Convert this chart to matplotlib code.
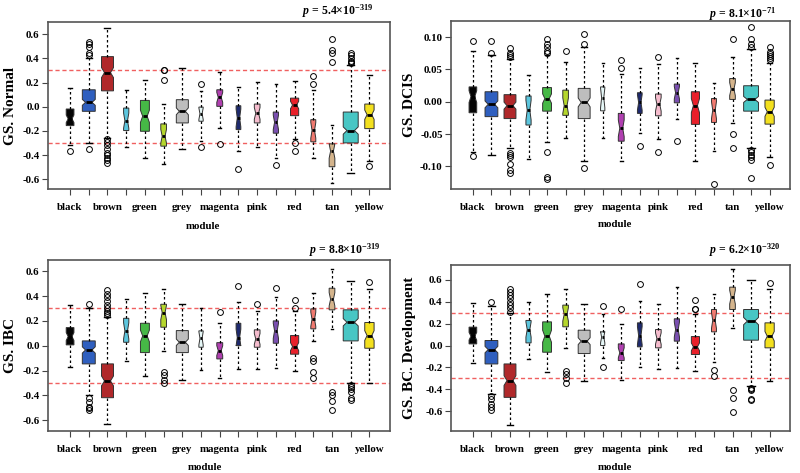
import numpy as np
import matplotlib
matplotlib.use("Agg")
import matplotlib.pyplot as plt

plt.rcParams['font.family'] = 'Liberation Serif'
plt.rcParams['font.weight'] = 'bold'
plt.rcParams['axes.unicode_minus'] = False
plt.rcParams['mathtext.fontset'] = 'custom'
plt.rcParams['mathtext.rm'] = 'Liberation Serif:bold'
plt.rcParams['mathtext.it'] = 'Liberation Serif:italic:bold'
plt.rcParams['mathtext.bf'] = 'Liberation Serif:bold'

modules = ['black', 'blue', 'brown', 'cyan', 'green', 'greenyellow', 'grey',
           'lightcyan', 'magenta', 'midnightblue', 'pink', 'purple', 'red',
           'salmon', 'tan', 'turquoise', 'yellow']
module_colors = ['#050505', '#2f5fbf', '#b0282a', '#5cc6de', '#46b846', '#b5d62c',
                 '#bdbdbd', '#e6f7f7', '#b03fb0', '#1e2a6e', '#f5bccd', '#7a4fb0',
                 '#e8202a', '#f07a70', '#d4b48c', '#48c6c4', '#f3e01e']
# genes per module (box width ~ sqrt(n))
module_size = [48, 134, 116, 22, 64, 26, 116, 15, 28, 18, 26, 22, 54, 20, 26, 180, 70]

# GS.Normal
normal_q1 = [-0.156, -0.038, 0.131, -0.197, -0.203, -0.326, -0.134, -0.12, 0.003,
             -0.189, -0.134, -0.219, -0.074, -0.29, -0.496, -0.299, -0.181]
normal_med = [-0.10, 0.036, 0.282, -0.115, -0.079, -0.244, -0.038, -0.058, 0.077,
              -0.093, -0.055, -0.129, 0.014, -0.195, -0.367, -0.197, -0.066]
normal_q3 = [-0.019, 0.14, 0.414, -0.011, 0.052, -0.142, 0.058, -0.003, 0.14,
             0.008, 0.022, -0.044, 0.071, -0.107, -0.307, -0.044, 0.022]
normal_lo = [-0.318, -0.30, -0.257, -0.334, -0.422, -0.477, -0.348, -0.28, -0.18,
             -0.362, -0.334, -0.427, -0.27, -0.422, -0.627, -0.55, -0.449]
normal_hi = [0.153, 0.40, 0.652, 0.14, 0.219, 0.022, 0.318, 0.13, 0.29,
             0.167, 0.203, 0.189, 0.214, 0.137, -0.148, 0.343, 0.258]
normal_out = [[-0.367], [0.427, 0.441, 0.49, 0.515, 0.537, -0.353],
              [-0.263, -0.29, -0.32, -0.35, -0.38, -0.40, -0.42, -0.44, -0.468],
              [], [], [0.222, 0.30, 0.304], [], [0.186, -0.334], [-0.312],
              [-0.512], [], [-0.482], [-0.299, -0.362], [0.186, 0.252],
              [0.373, 0.441, 0.468, 0.556], [0.36, 0.37, 0.38, 0.40, 0.43, 0.447],
              [-0.49]]

# GS.DCIS
dcis_q1 = [-0.017, -0.023, -0.026, -0.036, -0.0145, -0.021, -0.026, -0.014, -0.061,
           -0.018, -0.0217, -0.0016, -0.035, -0.032, 0.0036, -0.0145, -0.0346]
dcis_med = [0.008, -0.004, -0.006, -0.013, 0.005, -0.006, -0.001, 0.006, -0.041,
            -0.001, -0.004, 0.014, -0.006, -0.013, 0.0196, 0.0036, -0.0155]
dcis_q3 = [0.023, 0.0155, 0.011, 0.009, 0.022, 0.018, 0.0207, 0.023, -0.018,
           0.014, 0.012, 0.0274, 0.0155, 0.005, 0.036, 0.0248, 0.0026]
dcis_lo = [-0.0775, -0.082, -0.072, -0.089, -0.062, -0.056, -0.091, -0.056, -0.0915,
           -0.049, -0.058, -0.027, -0.092, -0.0765, -0.0326, -0.071, -0.085]
dcis_hi = [0.079, 0.072, 0.066, 0.042, 0.073, 0.062, 0.085, 0.06, 0.043,
           0.052, 0.059, 0.067, 0.06, 0.029, 0.069, 0.082, 0.06]
dcis_out = [[0.094, -0.084], [0.075, 0.094],
            [0.069, 0.072, 0.075, 0.083, -0.079, -0.083, -0.085, -0.097, -0.105, -0.110],
            [], [0.075, 0.078, 0.084, 0.09, 0.097, -0.078, -0.116, -0.119],
            [0.079], [0.09, 0.105, -0.102], [], [0.053, 0.0646], [-0.068],
            [0.07, -0.0775], [-0.06], [], [-0.127], [0.097, -0.05, -0.072],
            [0.084, 0.090, 0.097, 0.115, -0.075, -0.078, -0.082, -0.085, -0.09, -0.118],
            [0.065, 0.067, 0.071, 0.074, 0.077, 0.084, -0.098]]

# GS.IBC
ibc_q1 = [0.007, -0.146, -0.418, 0.028, -0.055, 0.149, -0.055, -0.012, -0.106,
          0.001, -0.012, 0.02, -0.068, 0.136, 0.289, 0.039, -0.02]
ibc_med = [0.074, -0.034, -0.283, 0.12, 0.079, 0.267, 0.028, 0.06, -0.039,
           0.066, 0.055, 0.12, -0.007, 0.213, 0.374, 0.189, 0.082]
ibc_q3 = [0.146, 0.039, -0.146, 0.221, 0.181, 0.334, 0.122, 0.12, 0.025,
          0.181, 0.128, 0.2, 0.082, 0.297, 0.463, 0.289, 0.187]
ibc_lo = [-0.168, -0.396, -0.632, -0.12, -0.24, -0.039, -0.275, -0.195, -0.262,
          -0.187, -0.187, -0.18, -0.203, 0.04, 0.133, -0.302, -0.297]
ibc_hi = [0.329, 0.307, 0.235, 0.374, 0.423, 0.455, 0.337, 0.302, 0.181,
          0.35, 0.28, 0.396, 0.28, 0.423, 0.619, 0.525, 0.455]
ibc_out = [[], [0.334, -0.42, -0.45, -0.49, -0.50, -0.52],
           [0.245, 0.26, 0.28, 0.30, 0.33, 0.36, 0.39, 0.42, 0.45],
           [], [], [-0.208, -0.235, -0.275, -0.302], [], [], [0.275], [0.477],
           [0.334], [0.463], [0.302, 0.369], [-0.10, -0.12, -0.21, -0.257],
           [-0.37, -0.396, -0.444, -0.517],
           [-0.315, -0.33, -0.35, -0.37, -0.42, -0.436], [0.509]]

# GS.BC.Development
bcdev_q1 = [0.015, -0.168, -0.473, 0.024, -0.061, 0.171, -0.073, 0.0, -0.137,
            -0.012, -0.021, 0.04, -0.082, 0.125, 0.329, 0.049, -0.021]
bcdev_med = [0.085, -0.037, -0.32, 0.146, 0.085, 0.284, 0.04, 0.076, -0.067,
             0.091, 0.064, 0.146, -0.012, 0.229, 0.442, 0.223, 0.085]
bcdev_q3 = [0.168, 0.046, -0.168, 0.229, 0.216, 0.369, 0.14, 0.125, 0.015,
            0.207, 0.146, 0.244, 0.082, 0.329, 0.533, 0.329, 0.207]
bcdev_lo = [-0.159, -0.442, -0.723, -0.119, -0.244, -0.027, -0.326, -0.113, -0.311,
            -0.195, -0.213, -0.204, -0.235, -0.15, 0.162, -0.372, -0.32]
bcdev_hi = [0.384, 0.36, 0.30, 0.396, 0.473, 0.518, 0.375, 0.29, 0.192,
            0.405, 0.375, 0.533, 0.284, 0.466, 0.695, 0.598, 0.512]
bcdev_out = [[], [0.40, -0.463, -0.49, -0.53, -0.56, -0.585],
             [0.31, 0.34, 0.37, 0.40, 0.43, 0.46, 0.49, 0.512],
             [], [], [-0.235, -0.26, -0.3, -0.34], [], [0.357, -0.195], [0.33],
             [0.564], [], [], [0.33, 0.335, 0.415], [-0.22, -0.28],
             [-0.41, -0.479, -0.607], [-0.39, -0.40, -0.41, -0.49, -0.494], [0.573]]

W, H = 800, 473
fig = plt.figure(figsize=(W / 100, H / 100), dpi=100)

pos = np.arange(1, len(modules) + 1)
sq = np.sqrt(np.array(module_size, dtype=float))
widths = 0.8 * sq / sq.max()


def panel(px, q1, med, q3, lo, hi, out, ylim, yticks, fmt, ylabel, ptext,
          ptext_xy, ylab_x, mod_xy, refline=True):
    l, t, r, b = px
    ax = fig.add_axes([l / W, 1 - b / H, (r - l) / W, (b - t) / H])
    stats = []
    for i in range(len(modules)):
        iqr = q3[i] - q1[i]
        half = 1.58 * iqr / sq[i]
        stats.append(dict(med=med[i], q1=q1[i], q3=q3[i], whislo=lo[i],
                          whishi=hi[i], fliers=out[i],
                          cilo=med[i] - half, cihi=med[i] + half))
    bp = ax.bxp(stats, positions=pos, widths=widths, shownotches=True,
                patch_artist=True, manage_ticks=False,
                boxprops=dict(edgecolor='#333333', linewidth=0.7),
                whiskerprops=dict(color='black', linestyle=(0, (2, 2)),
                                  linewidth=0.9),
                capprops=dict(color='black', linewidth=1),
                medianprops=dict(color='black', linewidth=2),
                flierprops=dict(marker='o', markerfacecolor='none',
                                markeredgecolor='black', markersize=4.2,
                                markeredgewidth=0.7))
    for patch, c in zip(bp['boxes'], module_colors):
        patch.set_facecolor(c)
        patch.set_zorder(2)
    if refline:
        for yv in (0.3, -0.3):
            ax.axhline(yv, color='#f06060', linestyle=(0, (3, 2)), lw=1, zorder=1)
    ax.set_xlim(-0.18, 18.1)
    ax.set_ylim(*ylim)
    ax.set_xticks(pos)
    ax.set_xticklabels([m if i % 2 == 0 else '' for i, m in enumerate(modules)],
                       fontsize=7.8, fontweight='bold')
    ax.set_yticks(yticks)
    ax.set_yticklabels([fmt.format(v) for v in yticks], fontsize=7.8,
                       fontweight='bold')
    ax.tick_params(axis='x', length=4, width=0.8, pad=6, color='#444444')
    ax.tick_params(axis='y', length=4, width=0.8, pad=2, color='#444444')
    for s in ax.spines.values():
        s.set_color('#555555')
        s.set_linewidth(1.2)
    fig.text(ylab_x / W, 1 - ((t + b) / 2) / H, ylabel, rotation=90,
             ha='center', va='center', fontsize=11, fontweight='bold')
    fig.text(mod_xy[0] / W, 1 - mod_xy[1] / H, 'module', ha='center',
             va='center', fontsize=7.8, fontweight='bold')
    fig.text(ptext_xy[0] / W, 1 - ptext_xy[1] / H, ptext, ha='right',
             va='center', fontsize=8.5, fontweight='bold')
    return ax


yt1 = [-0.6, -0.4, -0.2, 0.0, 0.2, 0.4, 0.6]
yt2 = [-0.10, -0.05, 0.0, 0.05, 0.10]

panel((48, 22, 390, 189), normal_q1, normal_med, normal_q3, normal_lo, normal_hi,
      normal_out, (-0.68, 0.70), yt1, '{:.1f}', 'GS. Normal',
      r'$p$ = 5.4×10$^{-319}$', (373, 11), 11, (203, 226))
panel((451, 21, 790, 189), dcis_q1, dcis_med, dcis_q3, dcis_lo, dcis_hi,
      dcis_out, (-0.135, 0.125), yt2, '{:.2f}', 'GS. DCIS',
      r'$p$ = 8.1×10$^{-71}$', (776, 14), 410, (615, 224), refline=False)
panel((48, 260, 390, 431), ibc_q1, ibc_med, ibc_q3, ibc_lo, ibc_hi,
      ibc_out, (-0.686, 0.69), yt1, '{:.1f}', 'GS. IBC',
      r'$p$ = 8.8×10$^{-319}$', (380, 250), 11, (205, 467))
panel((451, 265, 790, 431), bcdev_q1, bcdev_med, bcdev_q3, bcdev_lo, bcdev_hi,
      bcdev_out, (-0.78, 0.735), yt1, '{:.1f}', 'GS. BC. Development',
      r'$p$ = 6.2×10$^{-320}$', (780, 250), 410, (615, 467))

fig.savefig('out.png', dpi=100)
